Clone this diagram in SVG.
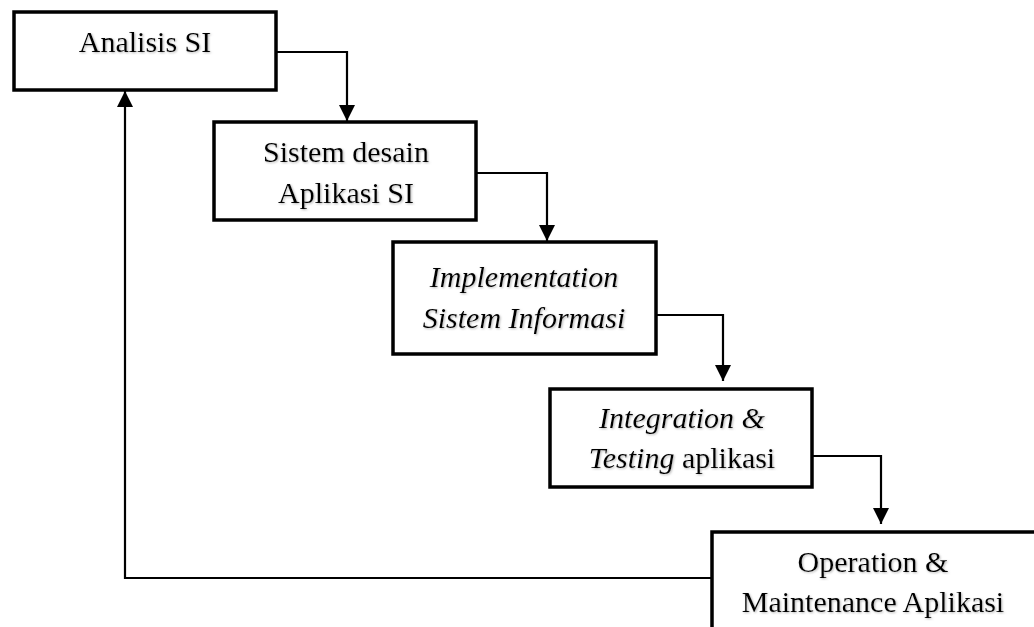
<svg xmlns="http://www.w3.org/2000/svg" width="1034" height="627" viewBox="0 0 1034 627">
  <style>
    .box { fill: #fff; stroke: #000; stroke-width: 3.5; }
    .lbl { font-family: "Liberation Serif", "Times New Roman", serif; font-size: 30px; fill: #000; text-anchor: middle; filter: url(#soft); }
    .it { font-style: italic; }
    .wire { fill: none; stroke: #000; stroke-width: 2.2; }
  </style>
  <defs>
    <marker id="arrow" viewBox="0 0 16 16" refX="16" refY="8" markerWidth="16" markerHeight="16" markerUnits="userSpaceOnUse" orient="auto">
      <path d="M0,0 L16,8 L0,16 Z" fill="#000"/>
    </marker>
    <!-- faint grey shadow behind the labels -->
    <filter id="soft" x="-5%" y="-20%" width="110%" height="140%">
      <feDropShadow dx="1" dy="1" stdDeviation="1" flood-color="#888" flood-opacity="0.6"/>
    </filter>
  </defs>

  <rect width="1034" height="627" fill="#fff"/>

  <!-- connectors -->
  <g id="connectors">
    <path class="wire" d="M276,52 H347 V121" marker-end="url(#arrow)"/>
    <path class="wire" d="M476,173 H547 V241" marker-end="url(#arrow)"/>
    <path class="wire" d="M656,315 H723 V381" marker-end="url(#arrow)"/>
    <path class="wire" d="M812,456 H881 V524" marker-end="url(#arrow)"/>
    <path class="wire" d="M712,578 H125 V91" marker-end="url(#arrow)"/>
  </g>

  <g id="analisis">
    <rect class="box" x="14" y="12" width="262" height="78"/>
    <text class="lbl" x="145" y="52">Analisis SI</text>
  </g>

  <g id="desain">
    <rect class="box" x="214" y="122" width="262" height="98"/>
    <text class="lbl" x="346" y="162">Sistem desain</text>
    <text class="lbl" x="346" y="203">Aplikasi SI</text>
  </g>

  <g id="implementation">
    <rect class="box" x="393" y="242" width="263" height="112"/>
    <text class="lbl it" x="524" y="287">Implementation</text>
    <text class="lbl it" x="524" y="328">Sistem Informasi</text>
  </g>

  <g id="integration">
    <rect class="box" x="550" y="389" width="262" height="98"/>
    <text class="lbl" x="682" y="428"><tspan class="it">Integration &amp;</tspan></text>
    <text class="lbl" x="682" y="468"><tspan class="it">Testing</tspan> aplikasi</text>
  </g>

  <g id="operation">
    <rect class="box" x="712" y="532" width="340" height="120"/>
    <text class="lbl" x="873" y="572">Operation &amp;</text>
    <text class="lbl" x="873" y="612">Maintenance Aplikasi</text>
  </g>
</svg>
